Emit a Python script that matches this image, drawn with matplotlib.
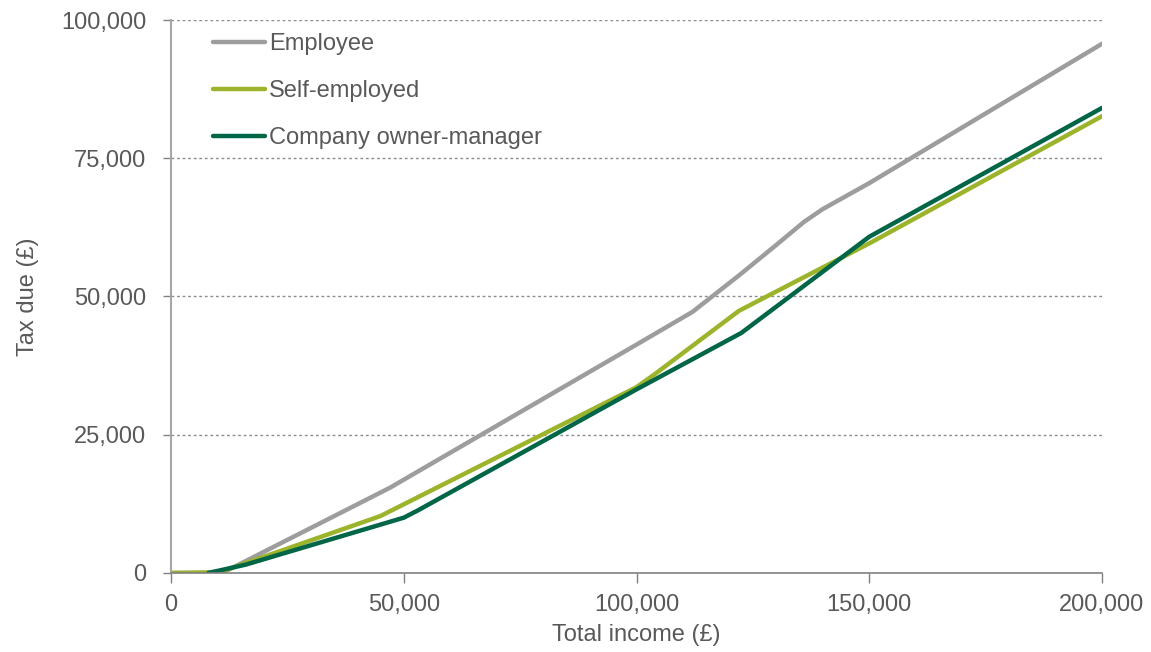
import matplotlib
matplotlib.use("Agg")
import matplotlib.pyplot as plt
from matplotlib.ticker import FuncFormatter

# Total income (£) and tax due (£)
emp_income = [0, 8000, 11000, 47000, 100000, 112000, 122000, 130000, 136000, 140000, 150000, 200000]
emp_tax = [0, 0, 0, 15400, 41300, 47200, 53800, 59300, 63500, 65800, 70500, 95700]

self_income = [0, 8000, 11000, 45000, 100000, 104000, 122000, 150000, 200000]
self_tax = [0, 100, 300, 10300, 33600, 36000, 47400, 59600, 82600]

co_income = [8000, 16000, 50000, 53000, 100000, 122500, 150000, 200000]
co_tax = [0, 1500, 10000, 11300, 33200, 43400, 60800, 84100]

series_names = ["Employee", "Self-employed", "Company owner-manager"]
xticks = [0, 50000, 100000, 150000, 200000]
yticks = [0, 25000, 50000, 75000, 100000]

text_col = "#595959"
plt.rcParams["font.family"] = ["Liberation Sans", "DejaVu Sans"]

fig = plt.figure(figsize=(11.51, 6.52), dpi=100)
ax = fig.add_axes([0.1486, 0.1212, 0.8088, 0.8481])

ax.plot(emp_income, emp_tax, color="#9d9d9d", lw=3.2, label=series_names[0],
        solid_capstyle="round", solid_joinstyle="round")
ax.plot(self_income, self_tax, color="#9bb42b", lw=3.2, label=series_names[1],
        solid_capstyle="round", solid_joinstyle="round")
ax.plot(co_income, co_tax, color="#006647", lw=3.2, label=series_names[2],
        solid_capstyle="round", solid_joinstyle="round")

ax.set_xlim(0, 200000)
ax.set_ylim(0, 100000)
ax.set_xticks(xticks)
ax.set_yticks(yticks)
fmt = FuncFormatter(lambda v, p: "{:,.0f}".format(v))
ax.xaxis.set_major_formatter(fmt)
ax.yaxis.set_major_formatter(fmt)

for v in yticks[1:]:
    ax.axhline(v, color="#8c8c8c", lw=1, ls=(0, (2, 2)), zorder=0)

ax.spines["top"].set_visible(False)
ax.spines["right"].set_visible(False)
ax.spines["left"].set_color("#a6a6a6")
ax.spines["left"].set_linewidth(1.5)
ax.spines["bottom"].set_color("#808080")
ax.spines["bottom"].set_linewidth(1.2)

ax.tick_params(axis="y", length=6, width=1, color="#808080", pad=12,
               labelsize=17, labelcolor=text_col)
ax.tick_params(axis="x", length=7, width=1, color="#808080", pad=8,
               labelsize=17, labelcolor=text_col)

ax.set_xlabel("Total income (£)", fontsize=17, color=text_col, labelpad=6)
ax.set_ylabel("Tax due (£)", fontsize=17, color=text_col, labelpad=16)

leg = ax.legend(loc="upper left", bbox_to_anchor=(0.027, 1.006), frameon=False,
                fontsize=17, handlelength=2.2, handletextpad=0.2,
                labelspacing=1.05, borderaxespad=0.3)
for t in leg.get_texts():
    t.set_color(text_col)

fig.savefig("out.png", dpi=100)
